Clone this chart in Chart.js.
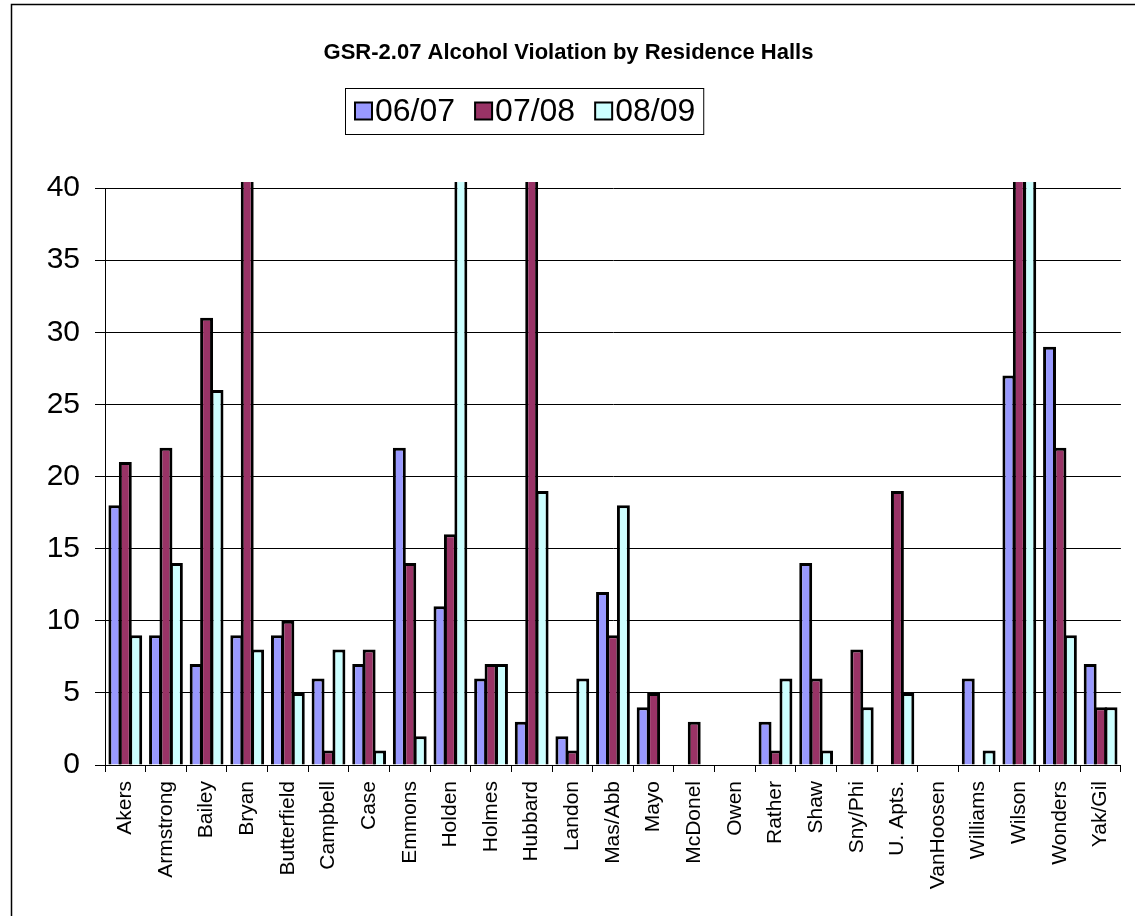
<!DOCTYPE html>
<html>
<head>
<meta charset="utf-8">
<title>GSR-2.07 Alcohol Violation by Residence Halls</title>
<script src="https://cdn.jsdelivr.net/npm/chart.js@4.4.0/dist/chart.umd.min.js"></script>
<style>
  body { margin: 0; background: #fff; }
  canvas { display: block; }
</style>
</head>
<body>
<canvas id="chart" width="1135" height="916"></canvas>
<script>
// Данные (значения выше 40 обрезаны на графике, оценка)
const halls = ['Akers', 'Armstrong', 'Bailey', 'Bryan', 'Butterfield', 'Campbell', 'Case', 'Emmons',
    'Holden', 'Holmes', 'Hubbard', 'Landon', 'Mas/Abb', 'Mayo', 'McDonel', 'Owen', 'Rather', 'Shaw',
    'Sny/Phi', 'U. Apts.', 'VanHoosen', 'Williams', 'Wilson', 'Wonders', 'Yak/Gil'];
const year0607 = [18, 9, 7, 9, 9, 6, 7, 22, 11, 6, 3, 2, 12, 4, null, null, 3, 14, null, null, null, 6, 27, 29, 7];
const year0708 = [21, 22, 31, 45, 10, 1, 8, 14, 16, 7, 44, 1, 9, 5, 3, null, 1, 6, 8, 19, null, null, 48, 22, 4];
const year0809 = [9, 14, 26, 8, 5, 8, 1, 2, 47, 7, 19, 6, 18, null, null, null, 6, 1, 4, 5, null, 1, 44, 9, 4];
const seriesNames = ['06/07', '07/08', '08/09'];
const yTicks = [0, 5, 10, 15, 20, 25, 30, 35, 40];

const FONT = '"Liberation Sans", Arial, sans-serif';
const colors = ['#9999FF', '#993366', '#CCFFFF'];

// Рамка вокруг графика и фон
const framePlugin = {
    id: 'frame',
    beforeDraw(chart) {
        const ctx = chart.ctx;
        ctx.save();
        ctx.fillStyle = '#fff';
        ctx.fillRect(0, 0, chart.width, chart.height);
        ctx.strokeStyle = '#000';
        ctx.lineWidth = 1.5;
        ctx.strokeRect(11.5, 4.5, chart.width + 20, chart.height + 20);
        ctx.restore();
    }
};

// Легенда в рамке, как в Excel
const boxLegendPlugin = {
    id: 'boxLegend',
    afterDraw(chart) {
        const ctx = chart.ctx;
        const left = 345, top = 88, height = 46, sq = 17;
        const midY = top + height / 2;
        ctx.save();
        ctx.font = '32px ' + FONT;
        ctx.textBaseline = 'middle';
        let x = left + 10;
        chart.data.datasets.forEach((ds, i) => {
            ctx.fillStyle = ds.backgroundColor;
            ctx.fillRect(x, midY - sq / 2, sq, sq);
            ctx.strokeStyle = '#000';
            ctx.lineWidth = 2;
            ctx.strokeRect(x, midY - sq / 2, sq, sq);
            ctx.fillStyle = '#000';
            ctx.fillText(ds.label, x + sq + 3, midY + 1);
            x += sq + 3 + ctx.measureText(ds.label).width;
            if (i < chart.data.datasets.length - 1) x += 20;
        });
        ctx.strokeStyle = '#000';
        ctx.lineWidth = 1;
        ctx.strokeRect(left + 0.5, top + 0.5, x + 8 - left, height);
        ctx.restore();
    }
};

const values = [year0607, year0708, year0809];
const datasets = seriesNames.map((name, i) => ({
    label: name,
    data: values[i],
    backgroundColor: colors[i],
    borderColor: '#000',
    borderWidth: 3,
    barPercentage: 1.24,
    categoryPercentage: 0.77,
    clip: { left: 5, right: 5, top: 6, bottom: 5 }
}));

new Chart(document.getElementById('chart'), {
    type: 'bar',
    data: { labels: halls, datasets: datasets },
    plugins: [framePlugin, boxLegendPlugin],
    options: {
        responsive: false,
        animation: false,
        devicePixelRatio: 1,
        layout: { padding: { left: 12, right: 10, top: 0, bottom: 0 } },
        plugins: {
            legend: { display: false },
            tooltip: { enabled: false },
            title: {
                display: true,
                text: 'GSR-2.07 Alcohol Violation by Residence Halls',
                color: '#000',
                font: { family: FONT, size: 22, weight: 'bold' },
                padding: { top: 40, bottom: 121.6 }
            }
        },
        scales: {
            x: {
                afterFit(scale) { scale.height = 151; },
                grid: {
                    offset: true,
                    drawOnChartArea: false,
                    drawTicks: true,
                    tickLength: 7,
                    color: '#000'
                },
                border: { color: '#000', width: 1 },
                ticks: {
                    color: '#000',
                    font: { family: FONT, size: 21 },
                    minRotation: 90,
                    maxRotation: 90,
                    autoSkip: false,
                    padding: 9
                }
            },
            y: {
                min: 0,
                max: 40,
                afterFit(scale) { scale.width = 93; },
                afterBuildTicks(scale) { scale.ticks = yTicks.map(v => ({ value: v })); },
                grid: {
                    color: '#000',
                    tickLength: 10
                },
                border: { color: '#000', width: 1 },
                ticks: {
                    color: '#000',
                    font: { family: FONT, size: 30 },
                    padding: 15
                }
            }
        }
    }
});
</script>
</body>
</html>
